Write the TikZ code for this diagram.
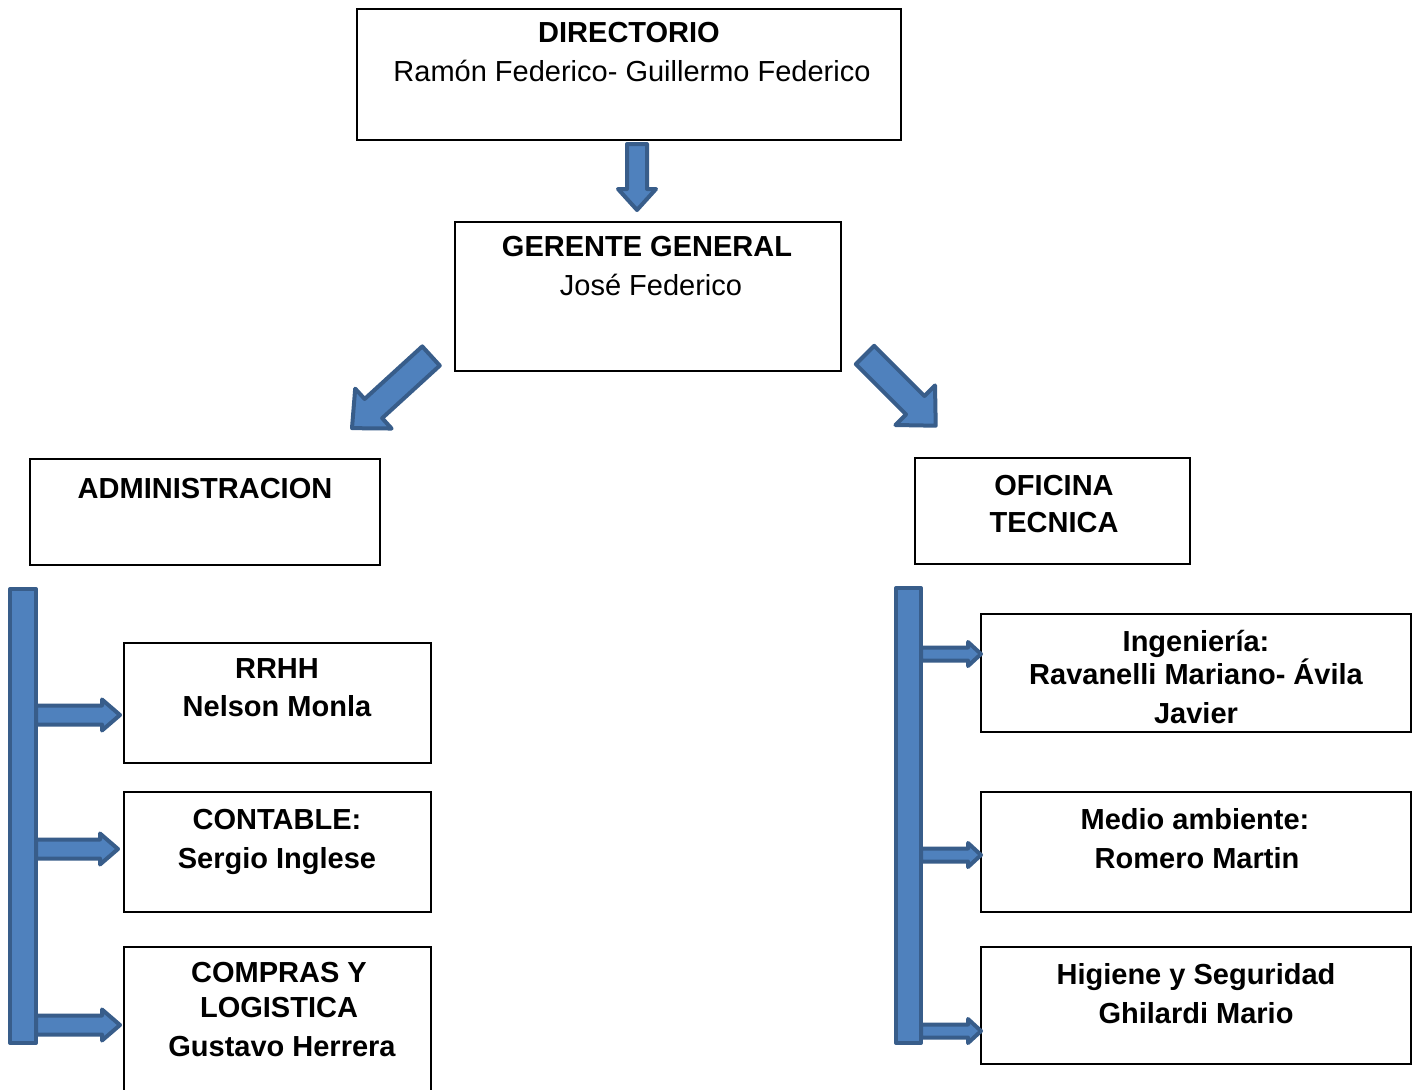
\documentclass[tikz,border=0pt]{standalone}
\usepackage{fontspec}
\setmainfont{Liberation Sans}
\definecolor{afill}{HTML}{4F81BD}
\definecolor{aline}{HTML}{385D8A}
\tikzset{
 box/.style={draw=black, line width=1.2pt, inner sep=0pt},
 ln/.style={anchor=base, inner sep=0pt, font=\fontsize{29}{35}\selectfont},
 bl/.style={anchor=base, inner sep=0pt, font=\fontsize{29}{35}\selectfont\bfseries},
 blk/.style={fill=afill, draw=aline, line width=4pt, line join=round}
}
\newcommand\blockarrow[6]{\draw[blk, shift={#1}, rotate=#2] (0,-#4) -- ({#3-#6},-#4) -- ({#3-#6},-#5) -- (#3,0) -- ({#3-#6},#5) -- ({#3-#6},#4) -- (0,#4) -- cycle;}
\begin{document}
\begin{tikzpicture}[x=1pt,y=-1pt]
\useasboundingbox[fill=white] (0,0) rectangle (1420,1089);
% boxes
\node[box, minimum width=544pt, minimum height=131pt] (dir) at (629,74.5) {};
\node[box, minimum width=386pt, minimum height=149pt] (ger) at (648,296.5) {};
\node[box, minimum width=350pt, minimum height=106pt] (adm) at (205,512) {};
\node[box, minimum width=275pt, minimum height=106pt] (ofi) at (1052.5,511) {};
\node[box, minimum width=307pt, minimum height=120pt] (rrhh) at (277.5,703) {};
\node[box, minimum width=307pt, minimum height=120pt] (cont) at (277.5,852) {};
\node[box, minimum width=307pt, minimum height=160pt] (comp) at (277.5,1027) {};
\node[box, minimum width=430pt, minimum height=118pt] (ing) at (1196,673) {};
\node[box, minimum width=430pt, minimum height=120pt] (med) at (1196,852) {};
\node[box, minimum width=430pt, minimum height=117pt] (hig) at (1196,1005.5) {};
% texts
\node[bl] (dirA) at (629,43) {DIRECTORIO};
\node[ln] (dirB) at (632,82) {Ramón Federico- Guillermo Federico};
\node[bl] (gerA) at (647,256) {GERENTE GENERAL};
\node[ln] (gerB) at (651,295) {José Federico};
\node[bl] (admA) at (205,498) {ADMINISTRACION};
\node[bl] (ofiA) at (1054,495) {OFICINA};
\node[bl] (ofiB) at (1054,532) {TECNICA};
\node[bl] (rrhhA) at (277,678) {RRHH};
\node[bl] (rrhhB) at (277,716) {Nelson Monla};
\node[bl] (contA) at (277,829) {CONTABLE:};
\node[bl] (contB) at (277,868) {Sergio Inglese};
\node[bl] (compA) at (279,982) {COMPRAS Y};
\node[bl] (compB) at (279,1017) {LOGISTICA};
\node[bl] (compC) at (282,1056) {Gustavo Herrera};
\node[bl] (ingA) at (1196,651) {Ingeniería:};
\node[bl] (ingB) at (1196,684) {Ravanelli Mariano- Ávila};
\node[bl] (ingC) at (1196,723) {Javier};
\node[bl] (medA) at (1195,829) {Medio ambiente:};
\node[bl] (medB) at (1197,868) {Romero Martin};
\node[bl] (higA) at (1196,984) {Higiene y Seguridad};
\node[bl] (higB) at (1196,1023) {Ghilardi Mario};
% block arrows
\blockarrow{(637,144)}{-90}{66}{10}{19}{21}
\blockarrow{(431,356)}{-137.6}{107}{13}{27}{29}
\blockarrow{(865,355)}{-45}{100}{13}{28}{29}
% bars
\draw[blk] (10,589) rectangle (36,1043);
\draw[blk] (896,588) rectangle (921,1043);
\blockarrow{(36,715)}{0}{84}{9.5}{15.5}{18}
\blockarrow{(36,849)}{0}{82}{9.5}{15.5}{18}
\blockarrow{(36,1025)}{0}{84}{9.5}{15.5}{18}
\blockarrow{(921,654)}{0}{60}{6.5}{12}{13}
\blockarrow{(921,855)}{0}{60}{6.5}{12}{13}
\blockarrow{(921,1031)}{0}{60}{6.5}{12}{13}
\end{tikzpicture}
\end{document}
